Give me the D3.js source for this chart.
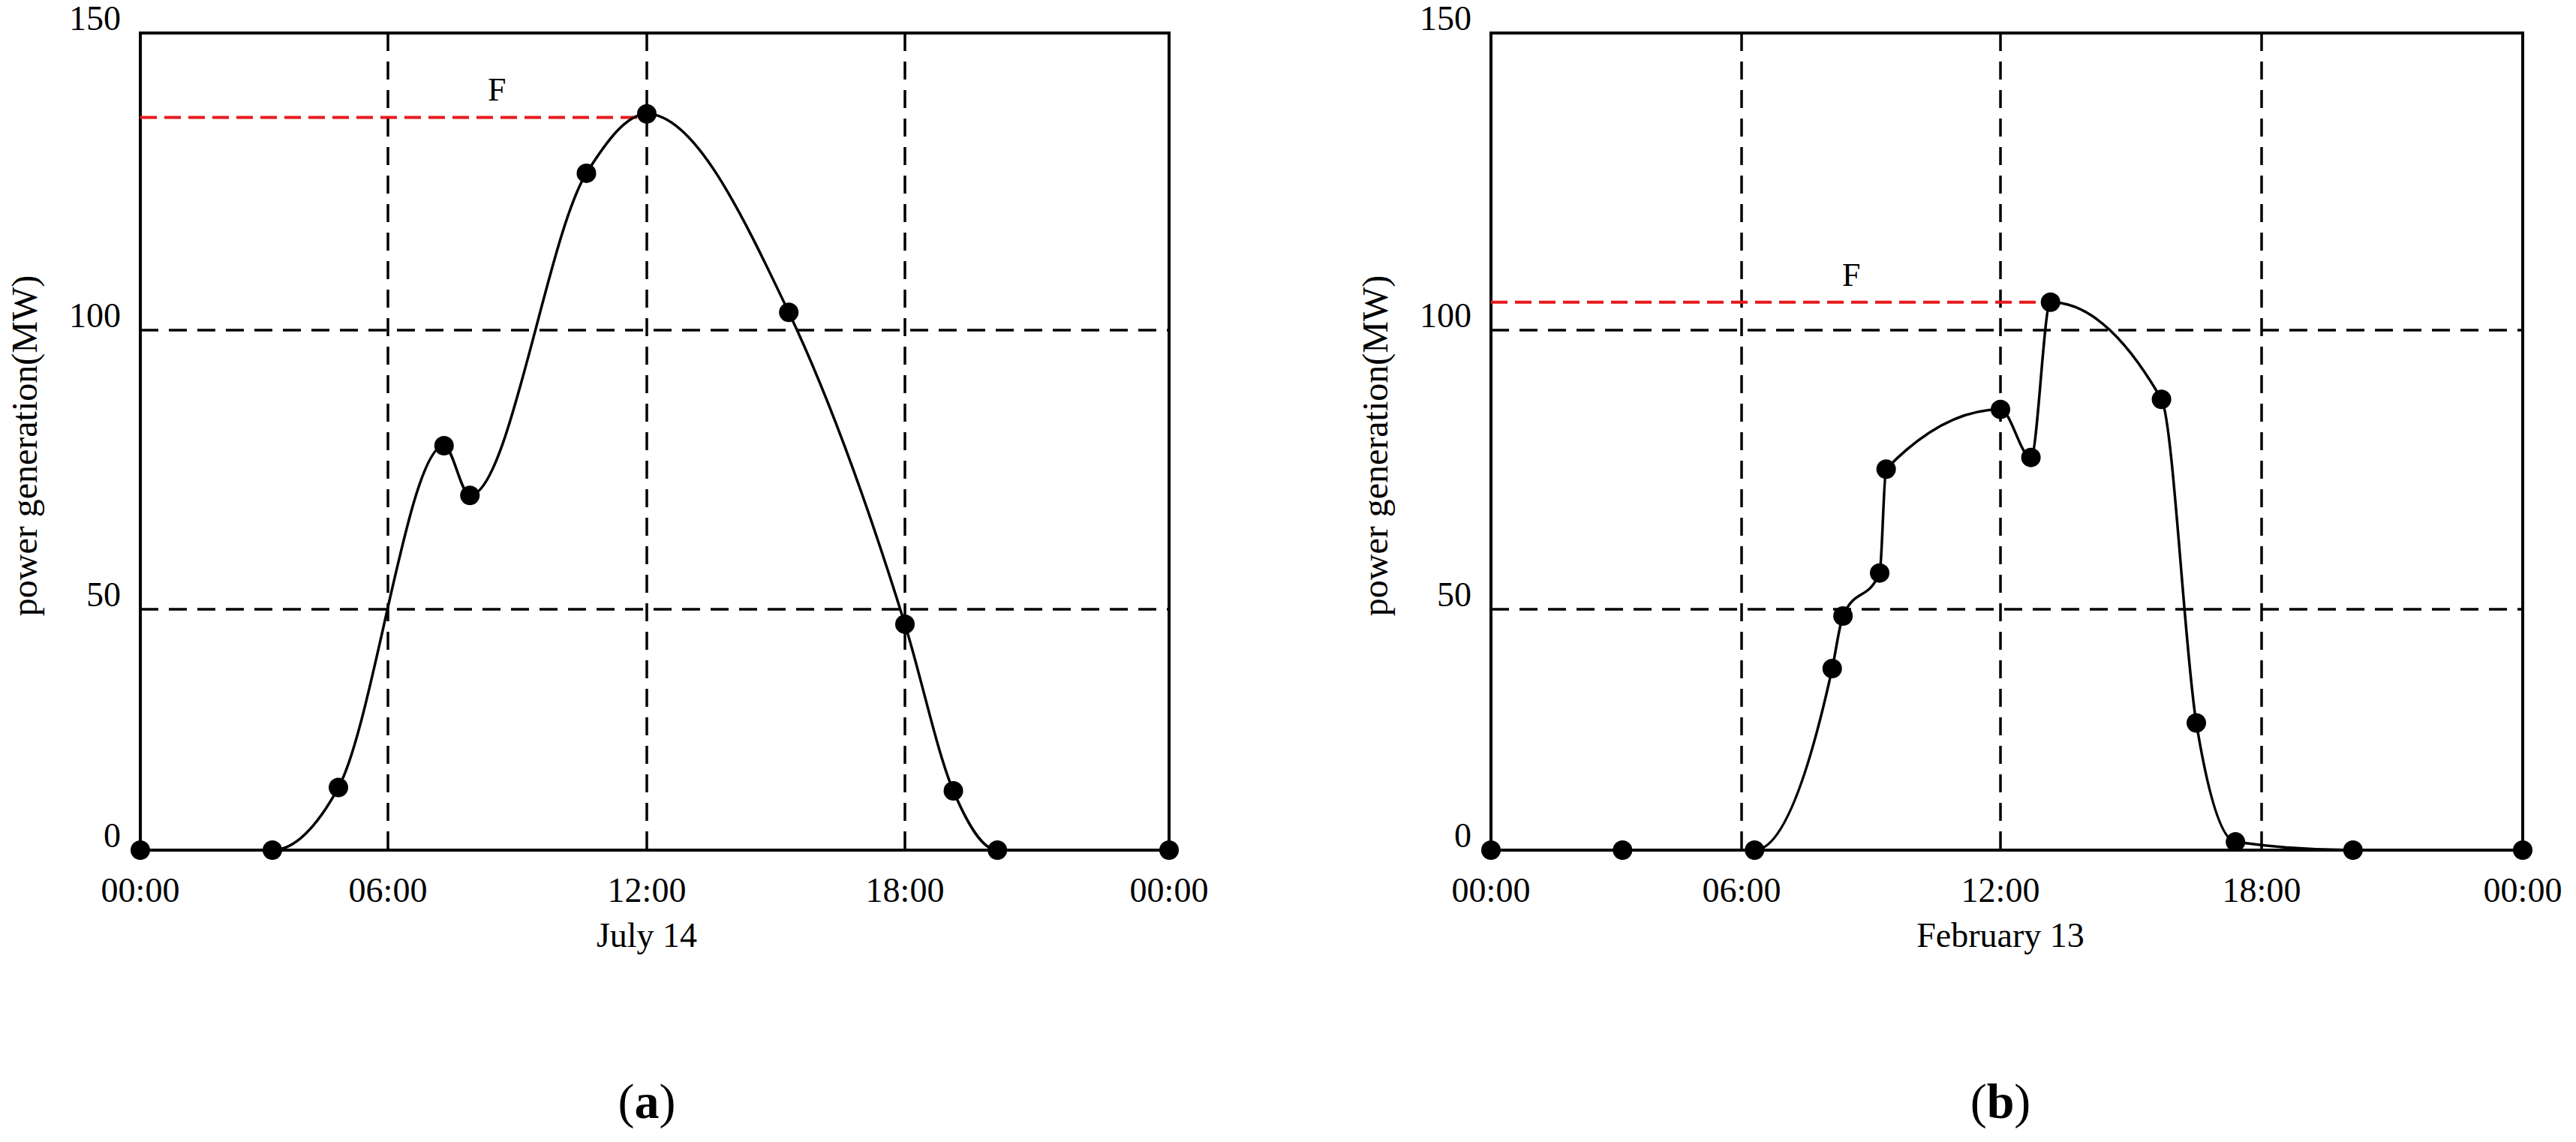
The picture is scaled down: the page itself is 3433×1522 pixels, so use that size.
<!DOCTYPE html>
<html><head><meta charset="utf-8">
<script src="https://cdn.jsdelivr.net/npm/d3@7"></script>
<style>body{margin:0;background:#fff}</style></head>
<body><svg id="c" width="3433" height="1522"></svg>
<script>
const hoursA = [0,3.2,4.8,7.3,7.9,10.6,12.0,15.3,18.0,19.1,20.1,24];
const powerA = [0,0,13,79.3,70.4,126.4,136.4,103,46.9,12.3,0,0];
const hoursB = [0,3.15,6.3,8.1,8.35,9.2,9.35,12.0,12.7,13.15,15.7,16.5,17.4,20.1,24];
const powerB = [0,0,0,37.7,48.6,56.5,75.1,85.8,77.2,104.7,87.6,26.4,1.7,0,0];
const peakA = 135.8, peakHourA = 12;
const peakB = 104.7, peakHourB = 13.15;
const yTicks = [0,50,100,150];
const xTickHours = [0,6,12,18,24];
const xTickLabels = ["00:00","06:00","12:00","18:00","00:00"];
const gridHours = [6,12,18];
const gridPowers = [50,100];

const svg = d3.select("#c");
const font = "'Liberation Serif', serif";

function panel(cfg){
  const g = svg.append("g");
  const x = d3.scaleLinear().domain([0,6,12,18,24]).range(cfg.xr);
  const left = cfg.xr[0], right = cfg.xr[4];
  const y = d3.scaleLinear().domain([0,50,100,150]).range([1133,812,440,44]);
  g.append("rect").attr("x",left).attr("y",44).attr("width",right-left).attr("height",1133-44)
    .attr("fill","none").attr("stroke","#000").attr("stroke-width",4);
  g.selectAll(".vg").data(gridHours).enter().append("line")
    .attr("x1",d=>x(d)).attr("x2",d=>x(d)).attr("y1",44).attr("y2",1133)
    .attr("stroke","#000").attr("stroke-width",3.5).attr("stroke-dasharray","24,14");
  g.selectAll(".hg").data(gridPowers).enter().append("line")
    .attr("x1",left).attr("x2",right).attr("y1",d=>y(d)).attr("y2",d=>y(d))
    .attr("stroke","#000").attr("stroke-width",3.5).attr("stroke-dasharray","24,14");
  g.append("line").attr("x1",left).attr("x2",x(cfg.peakHour)).attr("y1",y(cfg.peak)).attr("y2",y(cfg.peak))
    .attr("stroke","#e8191c").attr("stroke-width",4).attr("stroke-dasharray","22,10");
  g.append("text").attr("x",cfg.fx).attr("y",y(cfg.peak)-22).text("F")
    .attr("font-family",font).attr("font-size",44);
  const data = cfg.h.map((h,i)=>[h,cfg.p[i]]);
  g.append("path").datum(data).attr("fill","none").attr("stroke","#000").attr("stroke-width",3.5)
    .attr("d",d3.line().x(d=>x(d[0])).y(d=>y(d[1])).curve(d3.curveMonotoneX));
  g.selectAll(".pt").data(data).enter().append("circle")
    .attr("cx",d=>x(d[0])).attr("cy",d=>y(d[1])).attr("r",13).attr("fill","#000");
  g.selectAll(".yt").data(yTicks).enter().append("text")
    .attr("x",left-26).attr("y",d=>y(d)-4).attr("text-anchor","end")
    .attr("font-family",font).attr("font-size",46).text(d=>d);
  g.selectAll(".xt").data(xTickHours).enter().append("text")
    .attr("x",d=>x(d)).attr("y",1202).attr("text-anchor","middle")
    .attr("font-family",font).attr("font-size",46).text((d,i)=>xTickLabels[i]);
  g.append("text").attr("x",x(12)).attr("y",1262).attr("text-anchor","middle")
    .attr("font-family",font).attr("font-size",46).text(cfg.xlabel);
  g.append("text").attr("transform",`translate(${left-138},594) rotate(-90)`)
    .attr("text-anchor","middle").attr("font-family",font).attr("font-size",48).text("power generation(MW)");
  const t = g.append("text").attr("x",x(12)).attr("y",1490).attr("text-anchor","middle")
    .attr("font-family",font).attr("font-size",66);
  t.append("tspan").text("(");
  t.append("tspan").attr("font-weight","bold").text(cfg.tag);
  t.append("tspan").text(")");
}
panel({xr:[187,517,862,1206,1558],h:hoursA,p:powerA,peak:peakA,peakHour:peakHourA,fx:650,xlabel:"July 14",tag:"a"});
panel({xr:[1987,2321,2666,3014,3362],h:hoursB,p:powerB,peak:peakB,peakHour:peakHourB,fx:2455,xlabel:"February 13",tag:"b"});
</script></body></html>
